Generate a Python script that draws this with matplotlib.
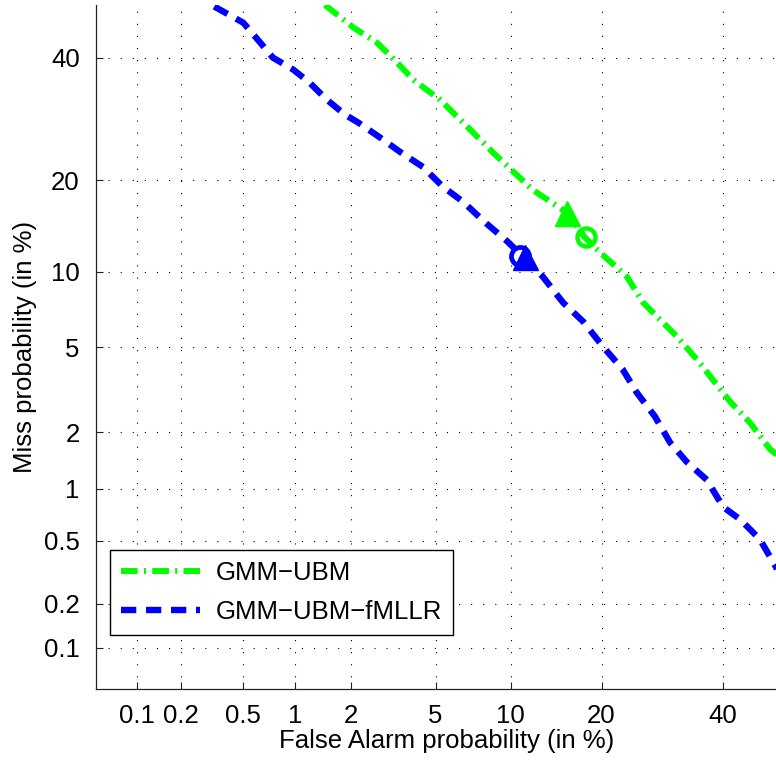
import numpy as np
import matplotlib
matplotlib.use('Agg')
import matplotlib.pyplot as plt
from matplotlib.ticker import FixedLocator, NullLocator
from statistics import NormalDist

plt.rcParams['font.family'] = ['Liberation Sans', 'DejaVu Sans']
plt.rcParams['lines.scale_dashes'] = False

# ── Data (percent) ────────────────────────────────────────────────────
fa_gmm = [1.46, 2.05, 2.69, 3.35, 3.97, 5.23, 6.53, 8.58, 12.0, 15.65, 17.8,
          19.8, 23.6, 26.1, 28.3, 31.7, 35.2, 38.1, 41.3, 45.1, 49.0, 50.9]
miss_gmm = [50.0, 45.7, 42.8, 39.1, 36.0, 32.4, 28.6, 23.9, 18.7, 15.9, 13.2,
            11.7, 9.58, 7.62, 6.71, 5.54, 4.41, 3.58, 2.83, 2.23, 1.63, 1.48]

fa_fmllr = [0.33, 0.50, 0.61, 0.75, 0.98, 1.21, 1.50, 1.86, 2.17, 2.78, 3.46,
            4.40, 5.38, 6.53, 7.99, 9.70, 11.1, 13.0, 15.2, 17.6, 20.2, 23.0,
            25.1, 28.0, 30.5, 33.4, 37.0, 40.0, 43.2, 47.0, 50.9]
miss_fmllr = [49.7, 46.6, 43.4, 40.0, 37.8, 35.4, 32.4, 29.9, 28.6, 26.2, 24.0,
              21.8, 19.1, 17.2, 14.8, 12.8, 11.3, 9.58, 7.62, 6.40, 5.02, 3.98,
              3.12, 2.39, 1.77, 1.40, 1.12, 0.79, 0.67, 0.51, 0.31]

# operating points: (false alarm %, miss %)
gmm_tri = (15.6, 15.9)
gmm_circ = (17.9, 13.2)
fmllr_tri = (11.3, 11.3)
fmllr_circ = (10.8, 11.4)

ticks = [0.1, 0.2, 0.5, 1, 2, 5, 10, 20, 40]
tick_labels = ['0.1', '0.2', '0.5', '1', '2', '5', '10', '20', '40']

# ── normal deviate scale ──────────────────────────────────────────────
_nd = NormalDist()


def _probit_one(p):
    if not np.isfinite(p):
        return np.nan
    return _nd.inv_cdf(min(max(p, 1e-9), 1 - 1e-9))


def _cdf_one(z):
    if not np.isfinite(z):
        return np.nan
    return _nd.cdf(z)


_probit_v = np.vectorize(_probit_one, otypes=[float])
_cdf_v = np.vectorize(_cdf_one, otypes=[float])


def fwd(x):
    return _probit_v(np.asarray(x, float) / 100.0)


def inv(z):
    return _cdf_v(np.asarray(z, float)) * 100.0


# ── Figure ────────────────────────────────────────────────────────────
fig = plt.figure(figsize=(7.76, 7.61), dpi=100)
ax = fig.add_axes([0.1232, 0.0941, 0.882, 0.8994])

green = '#00ff00'
blue = '#0000ff'
fs = 18.5

ax.plot(fa_gmm, miss_gmm, color=green, lw=4.3,
        dashes=(12, 4.5, 1.5, 4.5), label='GMM\u2212UBM', zorder=3)
ax.plot(fa_fmllr, miss_fmllr, color=blue, lw=4.6,
        dashes=(11, 7), label='GMM\u2212UBM\u2212fMLLR', zorder=3)

ax.plot(*gmm_tri, marker='^', ms=18, color=green, mec=green, ls='none', zorder=4)
ax.plot(*gmm_circ, marker='o', ms=13, mfc='none', mec=green, mew=3.2,
        ls='none', zorder=4)
ax.plot(*fmllr_circ, marker='o', ms=13, mfc='none', mec=blue, mew=3.4,
        ls='none', zorder=4)
ax.plot(*fmllr_tri, marker='^', ms=18, color=blue, mec=blue, ls='none', zorder=4)

ax.set_xscale('function', functions=(fwd, inv))
ax.set_yscale('function', functions=(fwd, inv))
ax.set_xlim(0.05, inv(fwd(50.0) + 4.6 / 206.6)[()])
ax.set_ylim(0.05, 50)

for axis in (ax.xaxis, ax.yaxis):
    axis.set_major_locator(FixedLocator(ticks))
    axis.set_minor_locator(NullLocator())
ax.set_xticklabels(tick_labels)
ax.set_yticklabels(tick_labels)

ax.tick_params(direction='in', length=5, width=0.8, labelsize=fs,
               color='#222222')
ax.tick_params(axis='x', pad=10.5)
ax.tick_params(axis='y', pad=11.5)

ax.grid(True, color='black', lw=0.8, dashes=(0.8, 7.9))
ax.set_axisbelow(True)

for s in ('top', 'right'):
    ax.spines[s].set_visible(False)
for s in ('left', 'bottom'):
    ax.spines[s].set_linewidth(0.9)
    ax.spines[s].set_color('#222222')

fig.text(447 / 776, 1 - 741 / 761, 'False Alarm probability (in %)',
         ha='center', va='center', fontsize=fs)
fig.text(25 / 776, 1 - 347 / 761, 'Miss probability (in %)', rotation=90,
         ha='center', va='center', fontsize=fs)

leg = ax.legend(loc='lower left', bbox_to_anchor=(0.021, 0.0795),
                borderaxespad=0, fancybox=False, edgecolor='black',
                framealpha=1, fontsize=fs, handlelength=3.1,
                handletextpad=0.6, labelspacing=0.6, borderpad=0.42)
leg.get_frame().set_linewidth(1.0)

fig.savefig('out.png', dpi=100)
